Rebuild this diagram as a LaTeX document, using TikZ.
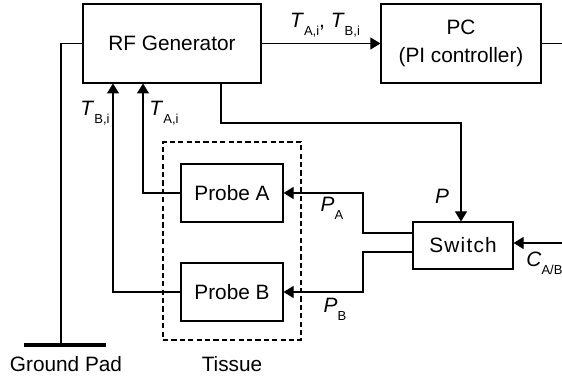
\documentclass[tikz,border=0pt]{standalone}
\usepackage{fontspec}
\setmainfont{Liberation Sans}
\usetikzlibrary{arrows.meta,positioning}
\newcommand{\lowsub}[1]{\raisebox{-4pt}{\fontsize{6.5}{7}\selectfont #1}}
\tikzset{
  blocknode/.style={rectangle, draw=black, line width=0.6pt, fill=white,
    inner sep=0pt, font=\fontsize{10.4}{14}\selectfont, align=center},
  tissuenode/.style={rectangle, draw=black, line width=0.6pt,
    dash pattern=on 2.6pt off 1.6pt, inner sep=0pt},
  labelnode/.style={inner sep=0pt, font=\fontsize{10.4}{12.5}\selectfont},
  plainedge/.style={draw=black, line width=0.6pt},
  sigedge/.style={-{Triangle[length=5pt, width=6pt]}, draw=black, line width=0.6pt},
  padedge/.style={draw=black, line width=1.7pt},
}
\begin{document}
\begin{tikzpicture}[x=0.5pt, y=-0.5pt]
  \useasboundingbox (0,0) rectangle (562,379);
  % blocks
  \node[tissuenode, minimum width=69pt, minimum height=99pt] (tissue) at (232,241) {};
  \node[blocknode, minimum width=89pt, minimum height=39.5pt] (rfgen) at (172,43.5) {RF Generator};
  \node[blocknode, minimum width=80pt, minimum height=39.5pt] (pc) at (461,43.5) {PC\\(PI controller)};
  \node[blocknode, minimum width=51pt, minimum height=29pt] (probea) at (232,193) {Probe A};
  \node[blocknode, minimum width=51pt, minimum height=29pt] (probeb) at (232,292) {Probe B};
  \node[blocknode, minimum width=50pt, minimum height=23.5pt] (switch) at (463,245.5)
    {\addfontfeature{LetterSpace=6}Switch};
  % helper points
  \coordinate (gnd) at (61,345);
  \coordinate (padl) at (24,345);
  \coordinate (padr) at (106,345);
  \coordinate (tbi) at (113,83.5);
  \coordinate (tai) at (143,83.5);
  \coordinate (tap) at (221,83.5);
  \coordinate (pturn) at (461,123);
  \coordinate (swa) at (413,233);
  \coordinate (swb) at (413,252);
  \coordinate (kneea) at (363,233);
  \coordinate (kneeb) at (363,252);
  \coordinate (pcout) at (570,43.5);
  \coordinate (cin) at (570,243);
  % connectors
  \draw[plainedge] (rfgen.west) -| (gnd);
  \draw[padedge] (padl) -- (padr);
  \draw[sigedge] (rfgen) -- (pc);
  \draw[plainedge] (pc.east) -- (pcout);
  \draw[sigedge] (tap) |- (pturn) -- (pturn |- switch.north);
  \draw[sigedge] (probea.west) -| (tai);
  \draw[sigedge] (probeb.west) -| (tbi);
  \draw[sigedge] (swa) -- (kneea) |- (probea.east);
  \draw[sigedge] (swb) -- (kneeb) |- (probeb.east);
  \draw[sigedge] (cin) -- (cin -| switch.east);
  % labels
  \node[labelnode] (lbltt) at (325,25) {\textit{T}\lowsub{A,i}, \textit{T}\lowsub{B,i}};
  \node[labelnode, anchor=east] (lbltb) at (110,113) {\textit{T}\lowsub{B,i}};
  \node[labelnode, anchor=west] (lblta) at (149,113) {\textit{T}\lowsub{A,i}};
  \node[labelnode] (lblp) at (442,196) {\textit{P}};
  \node[labelnode] (lblpa) at (332,208) {\textit{P}\lowsub{A}};
  \node[labelnode] (lblpb) at (335,309) {\textit{P}\lowsub{B}};
  \node[labelnode, anchor=west] (lblc) at (526,263) {\textit{C}\lowsub{A/B}};
  \node[labelnode] (lblgnd) at (66,364) {Ground Pad};
  \node[labelnode] (lbltissue) at (232,364) {Tissue};
\end{tikzpicture}
\end{document}
